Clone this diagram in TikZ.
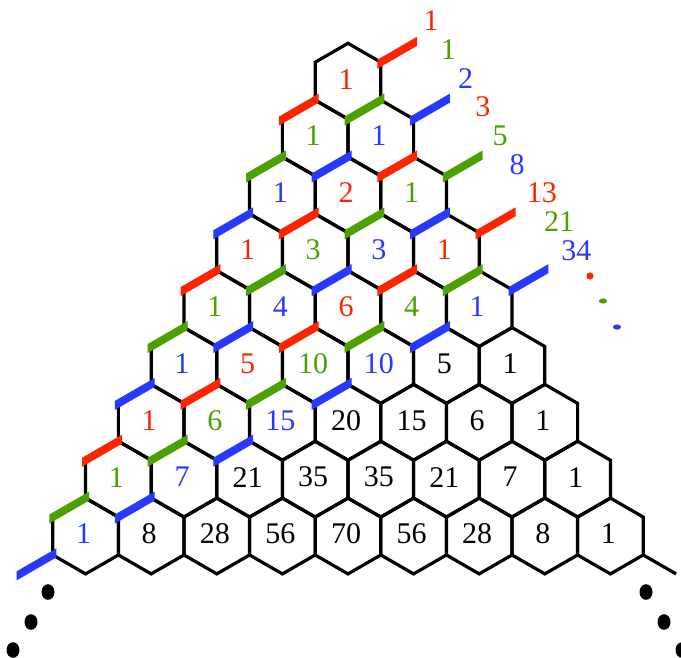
\documentclass[tikz,border=0pt]{standalone}
\usepackage{fontspec}
\setmainfont{Liberation Serif}
\usetikzlibrary{calc}

\definecolor{dg0}{RGB}{255,36,0}
\definecolor{dg1}{RGB}{76,160,0}
\definecolor{dg2}{RGB}{40,56,255}

\begin{document}
\begin{tikzpicture}[
	x=1pt,y=1pt,
	hexline/.style={draw=black,line width=3.2pt},
	num/.style={inner sep=0pt,font=\fontsize{30}{36}\selectfont,xshift=-2pt,yshift=2pt},
	sumlabel/.style={inner sep=0pt,anchor=west,font=\fontsize{30}{36}\selectfont},
	bigdot/.style={fill=black}
	]
	
	\useasboundingbox (0,0) rectangle (681,-657);
	
	% cells of the triangle
	\foreach \n/\row in {0/{1},1/{1,1},2/{1,2,1},3/{1,3,3,1},4/{1,4,6,4,1},
		5/{1,5,10,10,5,1},6/{1,6,15,20,15,6,1},7/{1,7,21,35,35,21,7,1},
		8/{1,8,28,56,70,56,28,8,1}}{
		\foreach \v [count=\k from 0] in \row {
			\pgfmathtruncatemacro\d{\n+\k}
			\pgfmathtruncatemacro\m{mod(\d,3)}
			\ifnum\d>8 \def\col{black}\else \edef\col{dg\m}\fi
			\coordinate (h\n-\k) at ({348+(\k-\n/2)*65.6},{-81.2-56.85*\n});
			\draw[hexline] (h\n-\k) +(90:37.9) -- +(150:37.9) -- +(210:37.9)
				-- +(270:37.9) -- +(330:37.9) -- +(30:37.9) -- cycle;
			\node[num,text=\col] (c\n-\k) at (h\n-\k) {\v};
		}
	}
	\draw[hexline] (h8-8) ++(330:37.9) -- ++(-30:37.9);
	
	% shallow diagonals
	\foreach \d in {0,...,8}{
		\pgfmathtruncatemacro\m{mod(\d,3)}
		\pgfmathtruncatemacro\kmax{\d/2+1}
		\foreach \k in {0,...,\kmax}{
			\pgfmathsetmacro\cx{348+(\k-(\d+1-\k)/2)*65.6}
			\pgfmathsetmacro\cy{-81.2-56.85*(\d+1-\k)}
			\fill[dg\m] ({\cx-36.3},{\cy+21.43}) -- ({\cx+3.5},{\cy+44.42})
				-- ({\cx+3.5},{\cy+35.42}) -- ({\cx-36.3},{\cy+12.43}) -- cycle;
		}
	}
	
	% sums
	\foreach \d/\v in {0/1,1/1,2/2,3/3,4/5,5/8,6/13,7/21,8/34}{
		\pgfmathtruncatemacro\m{mod(\d,3)}
		\node[sumlabel,text=dg\m] (f\d) at ({423.5+17.2*\d},{-21-28.7*\d}) {\v};
	}
	\fill[dg0] (590,-276) circle[radius=3.6];
	\fill[dg1] (603,-301) ellipse[x radius=4.2,y radius=2.6];
	\fill[dg2] (617,-327) ellipse[x radius=4,y radius=2.6];
	
	\foreach \p in {(48,-592),(31,-622),(13,-650),(646,-592),(664,-622),(682,-650)}
		\fill[bigdot] \p ellipse[x radius=6.5,y radius=7.8];
	
\end{tikzpicture}
\end{document}
